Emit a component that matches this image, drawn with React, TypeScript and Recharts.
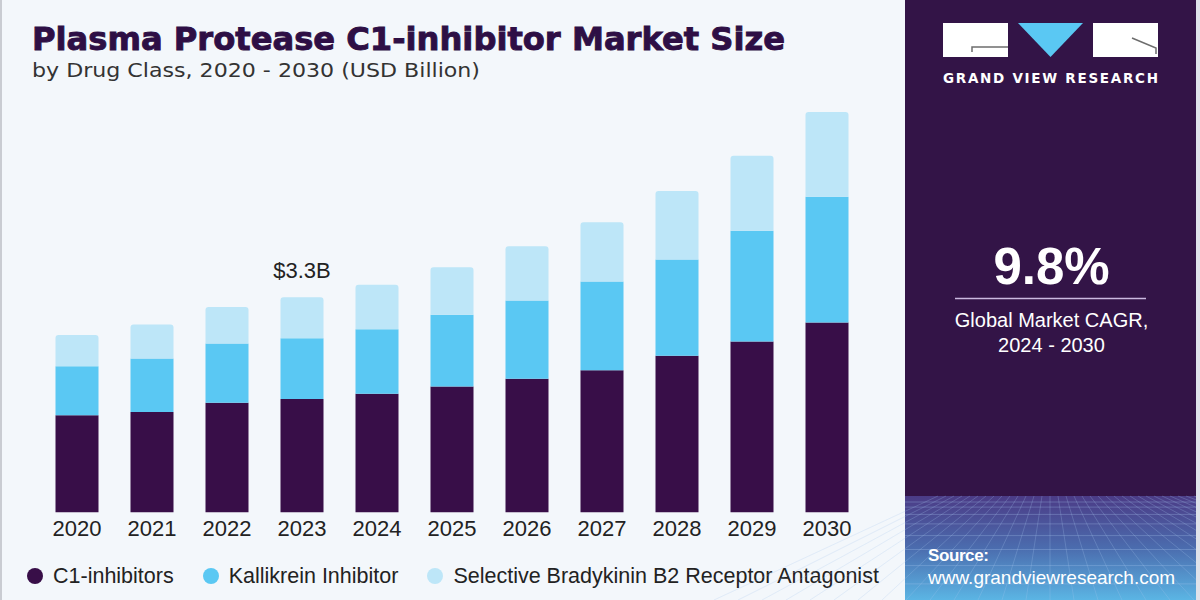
import React from "react";
import { BarChart, Bar, XAxis, YAxis, LabelList } from "recharts";

const YEARS = ["2020", "2021", "2022", "2023", "2024", "2025", "2026", "2027", "2028", "2029", "2030"];
const C1_INHIBITORS = [1.49, 1.54, 1.68, 1.74, 1.82, 1.93, 2.05, 2.18, 2.4, 2.62, 2.91];
const KALLIKREIN = [0.75, 0.82, 0.91, 0.93, 0.99, 1.1, 1.2, 1.36, 1.48, 1.7, 1.93];
const BRADYKININ_B2 = [0.48, 0.52, 0.56, 0.63, 0.68, 0.73, 0.83, 0.91, 1.05, 1.15, 1.3];
const CALLOUT_YEAR = "2023";

const SERIES = [
  { key: "c1", name: "C1-inhibitors", color: "#380e48" },
  { key: "kal", name: "Kallikrein Inhibitor", color: "#5ac8f3" },
  { key: "brad", name: "Selective Bradykinin B2 Receptor Antagonist", color: "#bde6f8" },
];

const data = YEARS.map((year, i) => ({
  year,
  c1: C1_INHIBITORS[i],
  kal: KALLIKREIN[i],
  brad: BRADYKININ_B2[i],
  total: +(C1_INHIBITORS[i] + KALLIKREIN[i] + BRADYKININ_B2[i]).toFixed(1),
}));

const SANS = "'Liberation Sans', Arial, sans-serif";
const WIDE = "'DejaVu Sans', Verdana, sans-serif";

function TotalLabel(props: any) {
  const { x, y, width, index } = props;
  const row = data[index];
  if (!row || row.year !== CALLOUT_YEAR) return null;
  return (
    <text x={x + width / 2} y={y - 19} textAnchor="middle" fontSize={22} fill="#222" fontFamily={SANS}>
      {`$${row.total.toFixed(1)}B`}
    </text>
  );
}

function LegendRow() {
  return (
    <div
      style={{
        position: "absolute",
        left: 27,
        top: 563,
        display: "flex",
        alignItems: "center",
        fontFamily: SANS,
        fontSize: 21.5,
        lineHeight: "26px",
        color: "#222",
        whiteSpace: "nowrap",
      }}
    >
      {SERIES.map((s) => (
        <div key={s.key} style={{ display: "flex", alignItems: "center", marginRight: 29 }}>
          <span
            style={{
              width: 16,
              height: 16,
              borderRadius: 8,
              background: s.color,
              display: "inline-block",
              marginRight: 10,
            }}
          />
          <span>{s.name}</span>
        </div>
      ))}
    </div>
  );
}

// perspective grid at the foot of the side panel
function GridFloor() {
  const lines: React.ReactNode[] = [];
  for (let i = 0; i < 10; i++) {
    const y = 6 + i * i * 1.1 + i * 4;
    lines.push(<line key={`h${i}`} x1={0} x2={291} y1={y} y2={y} stroke="#a9c8ee" strokeOpacity={0.3} />);
  }
  for (let i = -14; i <= 26; i++) {
    const xTop = 145 + i * 8;
    const xBot = 145 + i * 24;
    lines.push(<line key={`v${i}`} x1={xTop} x2={xBot} y1={0} y2={104} stroke="#a9c8ee" strokeOpacity={0.25} />);
  }
  return (
    <g transform="translate(905,496)">
      <rect x={0} y={0} width={291} height={104} fill="url(#floor)" />
      {lines}
    </g>
  );
}

function SidePanel() {
  return (
    <svg width={1200} height={600} style={{ position: "absolute", left: 0, top: 0 }}>
      <defs>
        <linearGradient id="floor" x1="0" y1="0" x2="0" y2="1">
          <stop offset="0%" stopColor="#4b3b86" />
          <stop offset="50%" stopColor="#4b6cae" />
          <stop offset="100%" stopColor="#5bb5e4" />
        </linearGradient>
      </defs>
      <rect x={905} y={0} width={291} height={600} fill="#331447" />
      <GridFloor />
      <rect x={1196} y={0} width={4} height={600} fill="#dfe3ea" />

      {/* logo */}
      <rect x={943} y={23} width={65} height={34} fill="#fff" />
      <polyline points="972,52 972,47 1008,47" fill="none" stroke="#6d6d6d" strokeWidth={1.5} />
      <polygon points="1018,23 1083,23 1050.5,57" fill="#5ac8f3" />
      <rect x={1093} y={23} width={65} height={34} fill="#fff" />
      <polyline points="1132,38 1156,48 1156,54" fill="none" stroke="#6d6d6d" strokeWidth={1.5} />
      <text
        x={943}
        y={83}
        textLength={215}
        lengthAdjust="spacing"
        fontFamily={WIDE}
        fontWeight={700}
        fontSize={13.5}
        fill="#fff"
      >
        GRAND VIEW RESEARCH
      </text>

      <text x={1051.5} y={284} textAnchor="middle" fontFamily={SANS} fontWeight={700} fontSize={51} fill="#fff">
        9.8%
      </text>
      <line x1={955} x2={1146} y1={298.5} y2={298.5} stroke="#cbb9e0" strokeWidth={1.5} />
      <text x={1051.5} y={327} textAnchor="middle" fontFamily={SANS} fontSize={20} fill="#fff">
        Global Market CAGR,
      </text>
      <text x={1051.5} y={352} textAnchor="middle" fontFamily={SANS} fontSize={20} fill="#fff">
        2024 - 2030
      </text>

      <text x={928} y={561} fontFamily={SANS} fontWeight={700} fontSize={17} letterSpacing={-0.4} fill="#fff">
        Source:
      </text>
      <text x={928} y={584} fontFamily={SANS} fontSize={19} fill="#fff">
        www.grandviewresearch.com
      </text>
    </svg>
  );
}

export default function App() {
  return (
    <div
      style={{
        position: "absolute",
        left: 0,
        top: 0,
        width: 1200,
        height: 600,
        background: "#f3f7fb",
        overflow: "hidden",
      }}
    >
      <div style={{ position: "absolute", left: 0, top: 0, width: 2, height: 600, background: "#c9ccd2" }} />
      <svg width={905} height={100} style={{ position: "absolute", left: 0, top: 0 }}>
        <text
          x={32}
          y={50}
          textLength={753}
          lengthAdjust="spacingAndGlyphs"
          fontFamily={WIDE}
          fontWeight={700}
          fontSize={32}
          fill="#2e0f45"
          stroke="#2e0f45"
          strokeWidth={0.9}
        >
          Plasma Protease C1-inhibitor Market Size
        </text>
        <text
          x={32}
          y={77}
          textLength={448}
          lengthAdjust="spacingAndGlyphs"
          fontFamily={WIDE}
          fontSize={19.5}
          fill="#333"
        >
          by Drug Class, 2020 - 2030 (USD Billion)
        </text>
      </svg>

      <div style={{ position: "absolute", left: 0, top: 0 }}>
        <BarChart
          width={905}
          height={600}
          data={data}
          margin={{ top: 56, right: 40.5, bottom: 57.7, left: 39.5 }}
          barSize={43}
        >
          <XAxis
            dataKey="year"
            axisLine={false}
            tickLine={false}
            height={30}
            tick={{ fontSize: 22, fill: "#222", fontFamily: SANS }}
          />
          <YAxis hide domain={[0, 7]} />
          <Bar dataKey="c1" stackId="a" fill={SERIES[0].color} isAnimationActive={false} />
          <Bar dataKey="kal" stackId="a" fill={SERIES[1].color} isAnimationActive={false} />
          <Bar dataKey="brad" stackId="a" fill={SERIES[2].color} radius={[3, 3, 0, 0]} isAnimationActive={false}>
            <LabelList dataKey="total" content={<TotalLabel />} />
          </Bar>
        </BarChart>
      </div>

      <LegendRow />
      <SidePanel />
    </div>
  );
}
